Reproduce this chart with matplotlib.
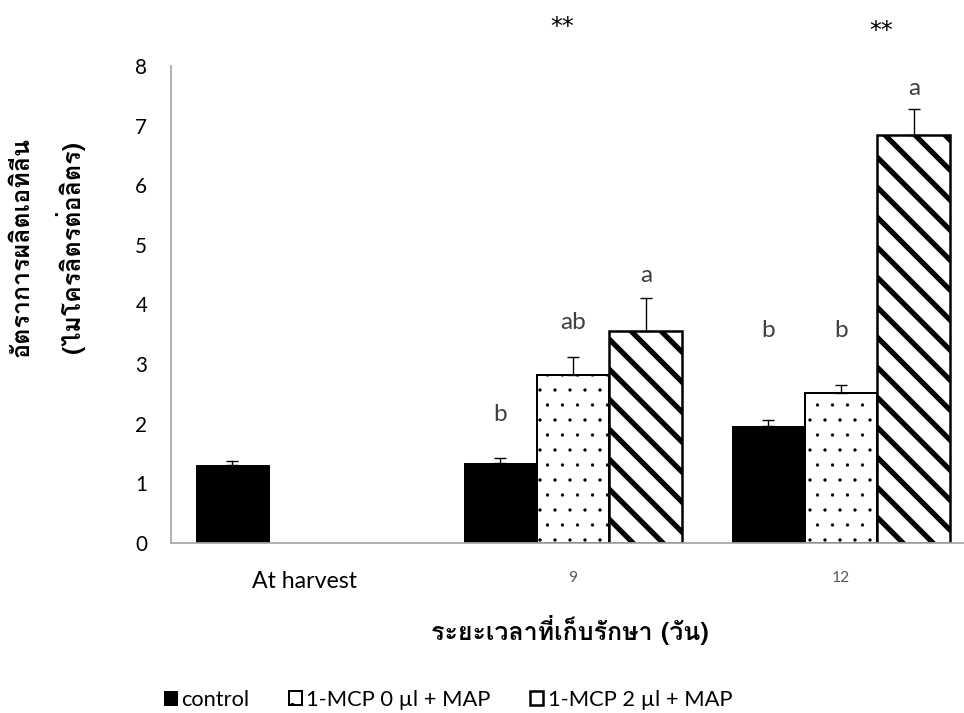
import matplotlib
matplotlib.use('Agg')
import matplotlib.pyplot as plt
import numpy as np
from matplotlib import font_manager
from matplotlib.ft2font import FT2Font

# datos
categorias = ['At harvest', '9', '12']
series = ['control', '1-MCP 0 µl + MAP', '1-MCP 2 µl + MAP']
control = [1.30, 1.35, 1.97]
mcp0 = [np.nan, 2.82, 2.52]
mcp2 = [np.nan, 3.55, 6.85]
err_control = [0.08, 0.08, 0.10]
err_mcp0 = [np.nan, 0.30, 0.13]
err_mcp2 = [np.nan, 0.56, 0.43]

# letras de significancia (categoria, serie, texto, altura)
letras_cat = [1, 1, 1, 2, 2, 2]
letras_serie = [0, 1, 2, 0, 1, 2]
letras_txt = ['b', 'ab', 'a', 'b', 'b', 'a']
letras_y = [2.15, 3.69, 4.48, 3.57, 3.57, 7.62]
sig_x = [0.96, 2.15]
sig_y = [8.66, 8.58]

ylabel1 = 'อัตราการผลิตเอทิลีน'
ylabel2 = '(ไมโครลิตรต่อลิตร)'
xlabel = 'ระยะเวลาที่เก็บรักษา (วัน)'


def buscar_fuente_thai():
    # buscar una fuente instalada que tenga glifos thai
    for f in font_manager.fontManager.ttflist:
        try:
            if 0x0E01 in FT2Font(f.fname).get_charmap():
                return f.name
        except Exception:
            pass
    return None


thai = buscar_fuente_thai()
familia = ['Lato', 'DejaVu Sans']
familia_thai = [thai, 'Lato', 'DejaVu Sans'] if thai else familia
plt.rcParams['font.family'] = familia

# dpi 90 para que la trama diagonal tenga el paso del original
DPI = 90
W, H = 965, 713
fig = plt.figure(figsize=(W / DPI, H / DPI), dpi=DPI)
ax = fig.add_axes([171 / W, 1 - 543 / H, 804 / W, (543 - 66) / H])

x = np.arange(len(categorias))
ancho = 0.272
cero = np.zeros(len(categorias))
ek = dict(ecolor='black', elinewidth=1.1, capsize=5, capthick=1.1)

ax.bar(x - ancho, control, ancho, color='black', edgecolor='black', linewidth=0.8,
       yerr=[cero, err_control], error_kw=ek, label=series[0])
with plt.rc_context({'hatch.linewidth': 0.2}):
    b1 = ax.bar(x, mcp0, ancho, color='white', edgecolor='black', linewidth=1.6, hatch='.',
                yerr=[cero, err_mcp0], error_kw=ek, label=series[1])
with plt.rc_context({'hatch.linewidth': 4.2}):
    b2 = ax.bar(x + ancho, mcp2, ancho, color='white', edgecolor='black', linewidth=2.0, hatch='\\',
                yerr=[cero, err_mcp2], error_kw=ek, label=series[2])
for p in b1:
    if hasattr(p, 'set_hatch_linewidth'):
        p.set_hatch_linewidth(0.2)
for p in b2:
    if hasattr(p, 'set_hatch_linewidth'):
        p.set_hatch_linewidth(4.2)

# letras
for c, s, t, yy in zip(letras_cat, letras_serie, letras_txt, letras_y):
    ax.text(x[c] + (s - 1) * ancho, yy, t, ha='center', va='center', fontsize=19.5,
            color='#404040', clip_on=False)
for xx, yy in zip(sig_x, sig_y):
    ax.text(xx, yy, '**', ha='center', va='center', fontsize=19, color='black',
            family='DejaVu Sans', clip_on=False)

ax.set_xlim(-0.5, 2.5)
ax.set_ylim(0, 8)
ax.set_yticks(range(0, 9))
ax.set_xticks(x)
ax.set_xticklabels(categorias)
ax.tick_params(axis='both', length=0)
ax.tick_params(axis='y', pad=19, labelsize=16.5)
ax.tick_params(axis='x', pad=22)
etiquetas = ax.get_xticklabels()
etiquetas[0].set_fontsize(18.5)
for lab in etiquetas[1:]:
    lab.set_fontsize(12.5)
    lab.set_color('#595959')

for lado in ['top', 'right']:
    ax.spines[lado].set_visible(False)
for lado in ['left', 'bottom']:
    ax.spines[lado].set_color('#a6a6a6')
    ax.spines[lado].set_linewidth(1.4)

# etiquetas de ejes en thai
fig.text(22 / W, 1 - 247 / H, ylabel1, rotation=90, ha='center', va='center', fontsize=20,
         fontweight='bold', family=familia_thai)
fig.text(70 / W, 1 - 247 / H, ylabel2, rotation=90, ha='center', va='center', fontsize=20,
         fontweight='bold', family=familia_thai)
fig.text(570 / W, 1 - 630 / H, xlabel, ha='center', va='center', fontsize=20,
         fontweight='bold', family=familia_thai)

handles, labels = ax.get_legend_handles_labels()
fig.legend(handles, labels, loc='center', bbox_to_anchor=(448 / W, 1 - 700 / H), ncol=3,
           frameon=False, fontsize=17.5, handlelength=0.6, handleheight=0.6, handletextpad=0.2,
           columnspacing=1.8, borderaxespad=0)

fig.savefig('out.png', dpi=DPI)
